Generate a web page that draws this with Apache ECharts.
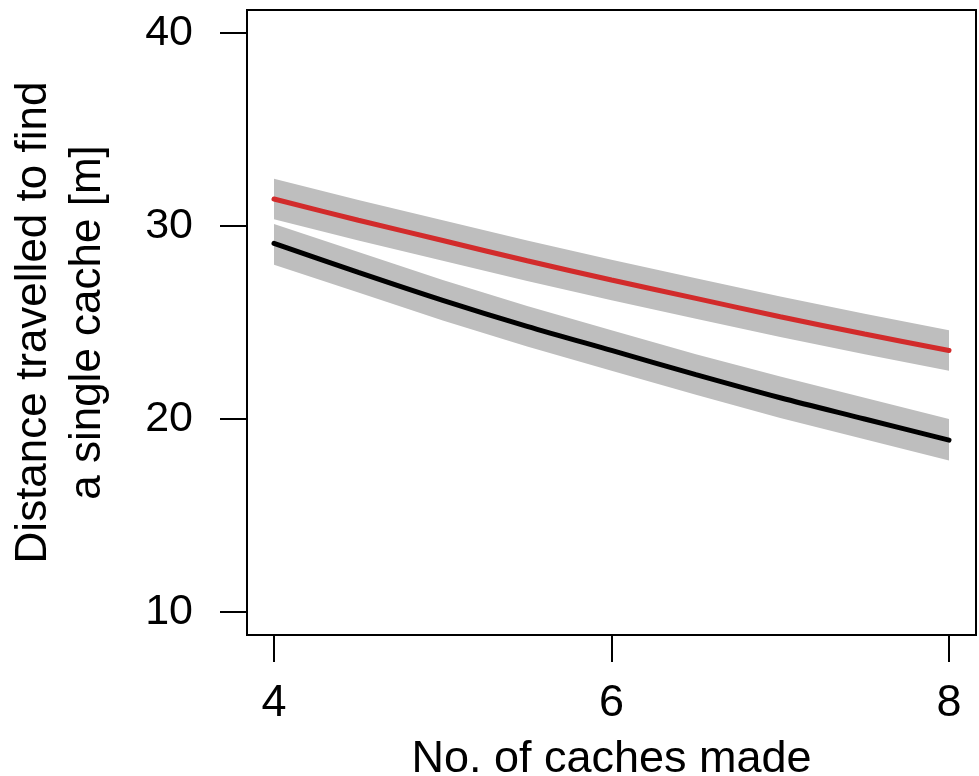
<!DOCTYPE html>
<html>
<head>
<meta charset="utf-8">
<script src="https://cdn.jsdelivr.net/npm/echarts@6/dist/echarts.min.js"></script>
<style>
  html, body { margin: 0; padding: 0; background: #fff; }
  #chart { width: 979px; height: 776px; }
</style>
</head>
<body>
<div id="chart"></div>
<script>
// x positions (no. of caches made)
var cacheCounts = [4, 4.5, 5, 5.5, 6, 6.5, 7, 7.5, 8];
// red group: fitted line and its band
var redFit   = [31.4, 30.3, 29.25, 28.2, 27.2, 26.25, 25.3, 24.4, 23.55];
var redUpper = [32.45, 31.35, 30.3, 29.25, 28.25, 27.3, 26.35, 25.45, 24.6];
var redLower = [30.35, 29.25, 28.2, 27.15, 26.15, 25.2, 24.25, 23.35, 22.5];
// black group
var blackFit   = [29.1, 27.6, 26.15, 24.8, 23.55, 22.3, 21.1, 20.0, 18.9];
var blackUpper = [30.1, 28.65, 27.2, 25.85, 24.6, 23.35, 22.2, 21.1, 20.0];
var blackLower = [28.0, 26.55, 25.1, 23.75, 22.5, 21.25, 20.05, 18.95, 17.85];
// ticks
var xTicks = [4, 6, 8];
var yTicks = [10, 20, 30, 40];

var font = 'Liberation Sans, Arial, sans-serif';

function pairs(xs, ys) {
  return xs.map(function (x, i) { return [x, ys[i]]; });
}

// 置信带：按上沿正向、下沿反向画一个多边形
function bandSeries(upper, lower) {
  return {
    type: 'custom',
    z: 1,
    silent: true,
    data: cacheCounts.map(function (x, i) { return [x, lower[i], upper[i]]; }),
    encode: { x: 0, y: [1, 2] },
    renderItem: function (params, api) {
      if (params.dataIndex !== 0) return;
      var pts = [];
      cacheCounts.forEach(function (x, i) { pts.push(api.coord([x, upper[i]])); });
      for (var i = cacheCounts.length - 1; i >= 0; i--) pts.push(api.coord([cacheCounts[i], lower[i]]));
      return {
        type: 'polygon',
        shape: { points: pts },
        style: { fill: '#bebebe', stroke: null }
      };
    }
  };
}

function lineSeries(ys, color) {
  return {
    type: 'line',
    z: 2,
    data: pairs(cacheCounts, ys),
    smooth: 0.3,
    showSymbol: false,
    silent: true,
    lineStyle: { color: color, width: 5, cap: 'round' }
  };
}

var chart = echarts.init(document.getElementById('chart'));

var option = {
  animation: false,
  backgroundColor: '#fff',
  grid: {
    left: 247,
    right: 3,
    top: 10,
    bottom: 141,
    outerBoundsMode: 'none',
    containLabel: false,
    show: true,
    borderColor: '#000',
    borderWidth: 2,
    backgroundColor: 'transparent'
  },
  xAxis: {
    type: 'value',
    min: 3.84,
    max: 8.16,
    splitLine: { show: false },
    axisLine: { show: false },
    axisTick: {
      show: true,
      customValues: xTicks,
      length: 27,
      lineStyle: { color: '#000', width: 2 }
    },
    axisLabel: {
      customValues: xTicks,
      color: '#000',
      fontFamily: font,
      fontSize: 45,
      margin: 46
    },
    name: 'No. of caches made',
    nameLocation: 'middle',
    nameGap: 102,
    nameTextStyle: { color: '#000', fontFamily: font, fontSize: 45 }
  },
  yAxis: {
    type: 'value',
    min: 8.8,
    max: 41.2,
    splitLine: { show: false },
    axisLine: { show: false },
    axisTick: {
      show: true,
      customValues: yTicks,
      length: 27,
      lineStyle: { color: '#000', width: 2 }
    },
    axisLabel: {
      customValues: yTicks,
      color: '#000',
      fontFamily: font,
      fontSize: 43,
      margin: 54
    },
    name: 'Distance travelled to find\na single cache [m]',
    nameLocation: 'middle',
    nameRotate: 90,
    nameGap: 132,
    nameTextStyle: { color: '#000', fontFamily: font, fontSize: 44, lineHeight: 54 }
  },
  series: [
    bandSeries(redUpper, redLower),
    bandSeries(blackUpper, blackLower),
    lineSeries(redFit, '#d22b2b'),
    lineSeries(blackFit, '#000')
  ]
};

chart.setOption(option);
</script>
</body>
</html>
